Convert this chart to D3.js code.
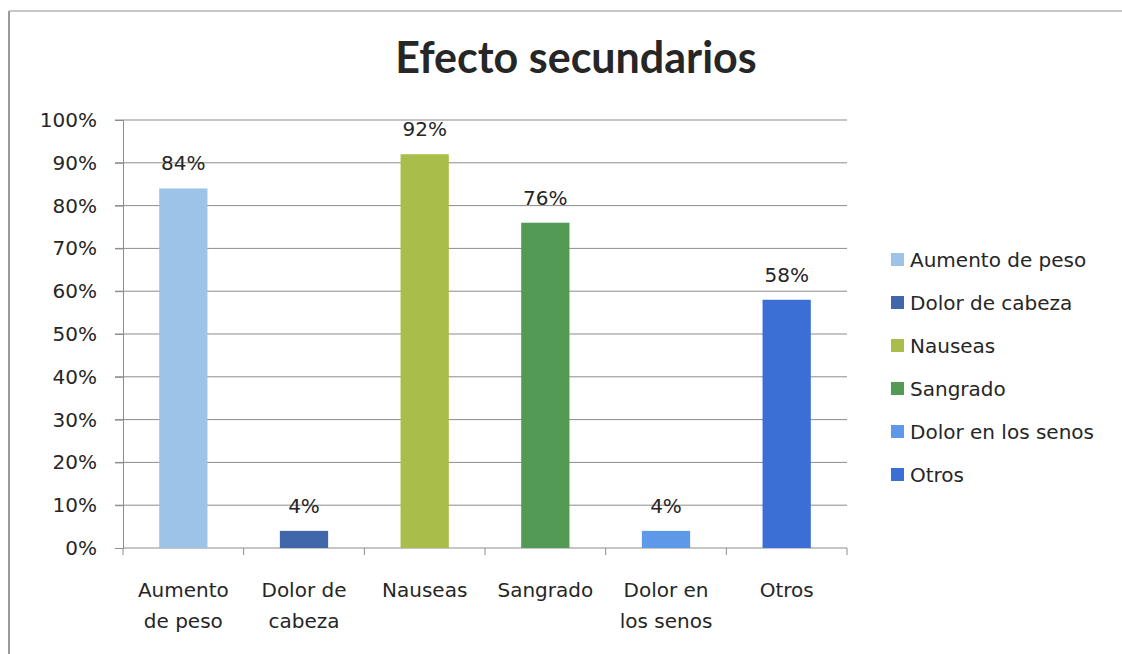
<!DOCTYPE html>
<html>
<head>
<meta charset="utf-8">
<script src="https://d3js.org/d3.v7.min.js"></script>
<style>
  body { margin: 0; background: #fff; }
  svg { display: block; font-family: "DejaVu Sans", sans-serif; }
</style>
</head>
<body>
<svg id="chart" width="1122" height="654"></svg>
<script>
const categories = ['Aumento de peso', 'Dolor de cabeza', 'Nauseas', 'Sangrado', 'Dolor en los senos', 'Otros'];
const axisLabels = [['Aumento', 'de peso'], ['Dolor de', 'cabeza'], ['Nauseas'], ['Sangrado'], ['Dolor en', 'los senos'], ['Otros']];
const values = [0.84, 0.04, 0.92, 0.76, 0.04, 0.58];
const colors = ['#9dc3e8', '#4266aa', '#a9be4a', '#539a55', '#5e98e8', '#3b6fd6'];
const yTicks = [0, 0.1, 0.2, 0.3, 0.4, 0.5, 0.6, 0.7, 0.8, 0.9, 1];

const svg = d3.select('#chart');
const pct = d3.format('.0%');

// frame of the scanned chart
svg.append('line').attr('x1', 9).attr('x2', 1122).attr('y1', 11).attr('y2', 11)
  .attr('stroke', '#c8c8c8').attr('stroke-width', 2);
svg.append('line').attr('x1', 9).attr('x2', 9).attr('y1', 11).attr('y2', 654)
  .attr('stroke', '#9a9a9a').attr('stroke-width', 2);

const x = d3.scaleBand().domain(categories).range([123, 847]).paddingInner(0.6).paddingOuter(0.3);
const y = d3.scaleLinear().domain([0, 1]).range([548, 120]);

svg.append('text')
  .attr('x', 576).attr('y', 73)
  .attr('text-anchor', 'middle')
  .style('font-family', 'Lato, sans-serif')
  .style('font-size', '43px').style('font-weight', 'bold').style('fill', '#262626')
  .text('Efecto secundarios');

// gridlines
svg.append('g').selectAll('line').data(yTicks.slice(1)).join('line')
  .attr('x1', 115).attr('x2', 847)
  .attr('y1', d => y(d)).attr('y2', d => y(d))
  .attr('stroke', '#8c8c8c').attr('stroke-width', 1);

const yAxis = svg.append('g').attr('transform', 'translate(123,0)')
  .call(d3.axisLeft(y).tickValues(yTicks).tickFormat(pct).tickSize(8).tickPadding(18));
yAxis.attr('font-family', null).attr('font-size', null);
yAxis.select('.domain').attr('stroke', '#8c8c8c');
yAxis.selectAll('.tick line').attr('stroke', '#8c8c8c');
yAxis.selectAll('text').style('font-size', '20px').style('fill', '#262626');

// x axis with ticks between categories
const bounds = categories.map(c => x(c) - x.step() * x.paddingInner() / 2 - (x.step() - x.bandwidth()) / 2 + x.step() * x.paddingInner() / 2);
bounds.push(847);
svg.append('line').attr('x1', 123).attr('x2', 847).attr('y1', 548).attr('y2', 548)
  .attr('stroke', '#8c8c8c');
svg.append('g').selectAll('line').data(bounds).join('line')
  .attr('x1', d => d).attr('x2', d => d).attr('y1', 548).attr('y2', 555)
  .attr('stroke', '#8c8c8c');

svg.append('g').selectAll('rect').data(values).join('rect')
  .attr('x', (d, i) => x(categories[i]))
  .attr('width', x.bandwidth())
  .attr('y', d => y(d))
  .attr('height', d => y(0) - y(d))
  .attr('fill', (d, i) => colors[i]);

svg.append('g').selectAll('text').data(values).join('text')
  .attr('x', (d, i) => x(categories[i]) + x.bandwidth() / 2)
  .attr('y', d => y(d) - 18)
  .attr('text-anchor', 'middle')
  .style('font-size', '20px').style('fill', '#262626')
  .text(d => pct(d));

const xl = svg.append('g').selectAll('text').data(axisLabels).join('text')
  .attr('x', (d, i) => x(categories[i]) + x.bandwidth() / 2)
  .attr('y', 597)
  .attr('text-anchor', 'middle')
  .style('font-size', '20px').style('fill', '#262626');
xl.selectAll('tspan').data(d => d).join('tspan')
  .attr('x', function() { return this.parentNode.getAttribute('x'); })
  .attr('dy', (d, i) => i === 0 ? 0 : 31)
  .text(d => d);

// legend
const legend = svg.append('g').selectAll('g').data(categories).join('g')
  .attr('transform', (d, i) => `translate(891,${260 + i * 43})`);
legend.append('rect').attr('x', 0).attr('y', -7).attr('width', 13).attr('height', 13)
  .attr('fill', (d, i) => colors[i]);
legend.append('text').attr('x', 19).attr('y', 7)
  .style('font-size', '20px').style('fill', '#262626')
  .text(d => d);
</script>
</body>
</html>
